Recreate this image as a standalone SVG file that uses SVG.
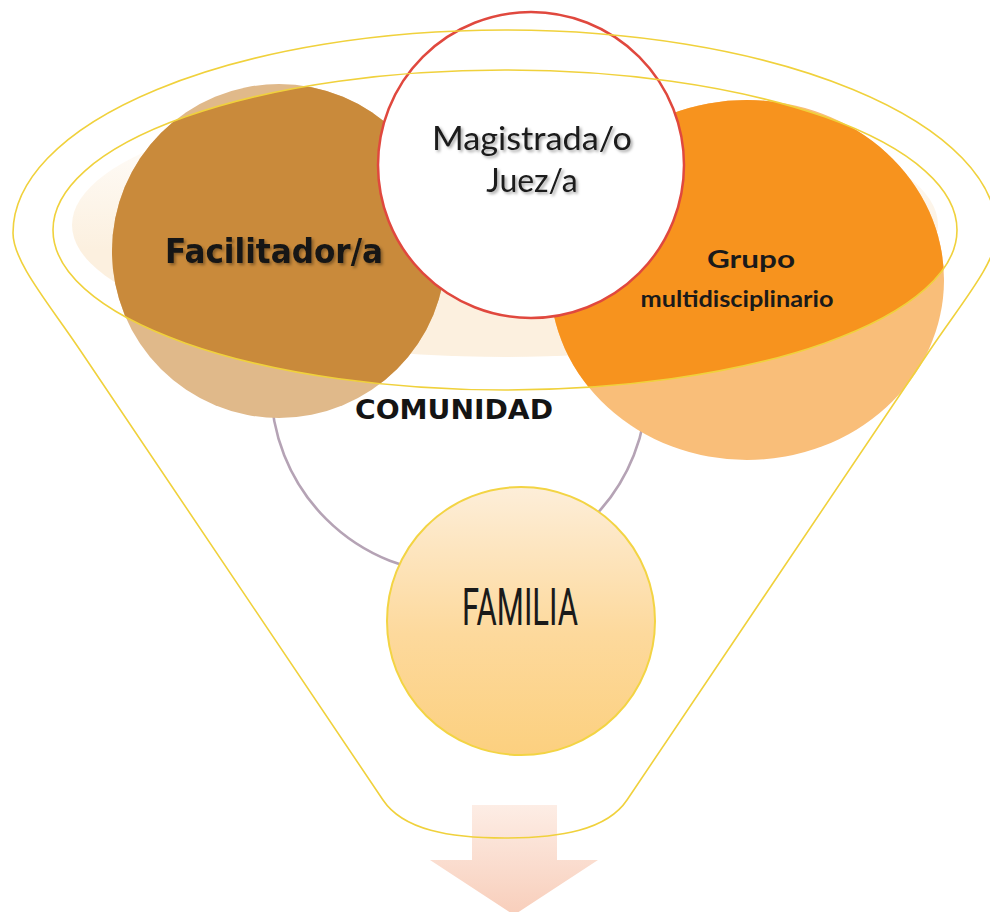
<svg xmlns="http://www.w3.org/2000/svg" width="990" height="912" viewBox="0 0 990 912">
  <defs>
    <style>
      .yl { fill: none; stroke: #f0d13c; stroke-width: 1.6; }
      .gy { fill: none; stroke: #b5a3b5; stroke-width: 2.6; }
      .bold { font-family: "DejaVu Sans", "Liberation Sans", sans-serif; font-weight: bold; fill: #141414; }
      .hum { font-family: Lato, "Open Sans", sans-serif; fill: #1a1a1a; }
      .cond { font-family: Roboto, "Liberation Sans", sans-serif; fill: #1a1a1a; }
    </style>
    <clipPath id="topEllipse">
      <ellipse cx="505" cy="230" rx="452" ry="160"/>
    </clipPath>
    <linearGradient id="famGrad" x1="0" y1="0" x2="0" y2="1">
      <stop offset="0" stop-color="#fdeed9"/>
      <stop offset="0.55" stop-color="#fdd99c"/>
      <stop offset="1" stop-color="#fcd07f"/>
    </linearGradient>
    <linearGradient id="creamGrad" gradientUnits="userSpaceOnUse" x1="0" y1="110" x2="0" y2="250">
      <stop offset="0" stop-color="#fcf0df" stop-opacity="0"/>
      <stop offset="1" stop-color="#fcf0df" stop-opacity="1"/>
    </linearGradient>
    <linearGradient id="arrowGrad" gradientUnits="userSpaceOnUse" x1="0" y1="805" x2="0" y2="912">
      <stop offset="0" stop-color="#fdede5"/>
      <stop offset="1" stop-color="#f8cfbc"/>
    </linearGradient>
    <filter id="shadow" x="-10%" y="-30%" width="120%" height="160%">
      <feDropShadow dx="2" dy="2" stdDeviation="1.5" flood-color="#000" flood-opacity="0.35"/>
    </filter>
  </defs>

  <rect width="990" height="912" fill="#ffffff"/>

  <!-- funnel top glow -->
  <g id="funnel-fill">
    <ellipse cx="505" cy="225" rx="433" ry="132" fill="url(#creamGrad)"/>
  </g>

  <g id="connectors">
    <path d="M472 805 H557 V860 H598 L514 915 L430 860 H472 Z" fill="url(#arrowGrad)"/>
  </g>

  <g id="node-comunidad">
    <circle class="gy" cx="459" cy="386" r="188"/>
  </g>

  <g id="node-facilitador">
    <circle cx="279" cy="251" r="167" fill="#e0b98a"/>
    <circle cx="279" cy="251" r="167" fill="#c98a3b" clip-path="url(#topEllipse)"/>
  </g>

  <g id="node-grupo">
    <ellipse cx="747" cy="280" rx="197" ry="180" fill="#f9be79"/>
    <ellipse cx="747" cy="280" rx="197" ry="180" fill="#f7931e" clip-path="url(#topEllipse)"/>
  </g>

  <g id="node-magistrada">
    <circle cx="531" cy="165" r="153" fill="#ffffff" stroke="#e0483e" stroke-width="2.5"/>
  </g>

  <g id="node-familia">
    <circle cx="521" cy="621" r="134" fill="url(#famGrad)" stroke="#f3d444" stroke-width="2"/>
  </g>

  <g id="funnel">
    <path class="yl" d="M13 233 A492 203 0 0 1 997 233 C997 262 960 305 930 350 L627 800 C607 830 560 838 505 838 C450 838 403 830 383 800 L80 350 C50 305 13 262 13 233 Z"/>
    <ellipse class="yl" cx="505" cy="230" rx="452" ry="160"/>
  </g>

  <g id="labels">
    <text class="hum" x="532" y="150" font-size="32" text-anchor="middle" textLength="200" lengthAdjust="spacingAndGlyphs" filter="url(#shadow)">Magistrada/o</text>
    <text class="hum" x="532" y="192" font-size="32" text-anchor="middle" filter="url(#shadow)">Juez/a</text>
    <text class="bold" x="274" y="263" font-size="33" text-anchor="middle" textLength="218" lengthAdjust="spacingAndGlyphs" filter="url(#shadow)">Facilitador/a</text>
    <text class="hum" x="751" y="268" font-size="24" font-weight="bold" text-anchor="middle" textLength="88" lengthAdjust="spacingAndGlyphs">Grupo</text>
    <text class="hum" x="737" y="307" font-size="23" font-weight="bold" text-anchor="middle" textLength="193" lengthAdjust="spacingAndGlyphs">multidisciplinario</text>
    <text class="bold" x="454" y="419" font-size="26" text-anchor="middle" textLength="198" lengthAdjust="spacingAndGlyphs">COMUNIDAD</text>
    <text class="cond" x="520" y="625" font-size="51" text-anchor="middle" textLength="116" lengthAdjust="spacingAndGlyphs">FAMILIA</text>
  </g>
</svg>
